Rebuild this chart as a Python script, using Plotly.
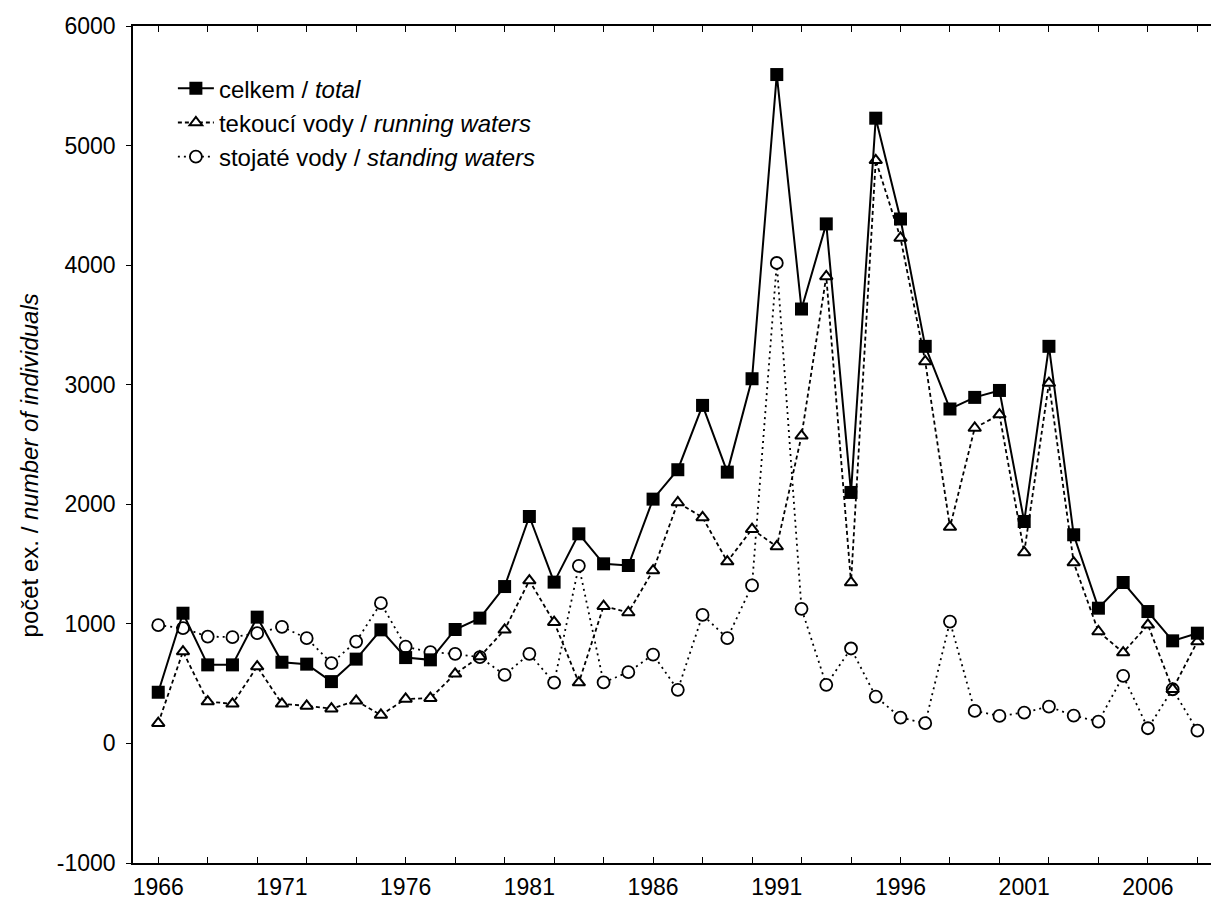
import plotly.graph_objects as go

years = list(range(1966, 2009))

total = [428, 1089, 657, 657, 1056, 679, 663, 517, 705, 950,
         718, 699, 953, 1048, 1312, 1898, 1349, 1753, 1502, 1488,
         2043, 2289, 2827, 2269, 3050, 5594, 3633, 4345, 2099, 5229,
         4386, 3321, 2797, 2894, 2952, 1856, 3321, 1745, 1131, 1346,
         1103, 858, 922]

running = [169, 768, 350, 331, 643, 331, 314, 291, 356, 238,
           372, 378, 582, 726, 950, 1362, 1014, 509, 1148, 1095,
           1446, 2015, 1890, 1521, 1792, 1647, 2573, 3906, 1346, 4877,
           4227, 3195, 1809, 2638, 2750, 1597, 3014, 1513, 936, 760,
           992, 453, 852]

standing = [989, 964, 894, 889, 922, 975, 880, 671, 852, 1173,
            810, 763, 749, 721, 573, 749, 509, 1485, 510, 596,
            743, 448, 1075, 880, 1321, 4018, 1126, 490, 794, 392,
            216, 169, 1019, 272, 230, 258, 308, 233, 183, 565,
            127, 453, 107]

names = ["celkem / <i>total</i>",
         "tekoucí vody / <i>running waters</i>",
         "stojaté vody / <i>standing waters</i>"]

x_label_vals = [1966, 1971, 1976, 1981, 1986, 1991, 1996, 2001, 2006]
x_label_text = [str(v) for v in x_label_vals]
y_tick_vals = [-1000, 0, 1000, 2000, 3000, 4000, 5000, 6000]
y_tick_text = ["-1000", "0", "1000", "2000", "3000", "4000", "5000", "6000"]

FONT = "Liberation Sans, Arial, sans-serif"
TICK_SIZE = 23
LEG_SIZE = 24
TITLE_SIZE = 24

fig = go.Figure()

fig.add_trace(go.Scatter(
    x=years, y=standing, name=names[2], mode="lines+markers",
    line=dict(color="black", width=1.8, dash="2px,4px"),
    marker=dict(symbol="circle", size=12, color="white",
                line=dict(color="black", width=1.8)),
))
fig.add_trace(go.Scatter(
    x=years, y=running, name=names[1], mode="lines+markers",
    line=dict(color="black", width=1.8, dash="4px,3px"),
    marker=dict(symbol="triangle-up", size=11, color="white",
                line=dict(color="black", width=2)),
))
fig.add_trace(go.Scatter(
    x=years, y=total, name=names[0], mode="lines+markers",
    xaxis="x2",
    line=dict(color="black", width=2),
    marker=dict(symbol="square", size=13, color="black",
                line=dict(color="black", width=0)),
))

xr = [1964.98, 2008.55]

fig.update_layout(
    width=1211, height=905,
    margin=dict(l=133, r=0, t=26, b=42),
    paper_bgcolor="white", plot_bgcolor="white",
    font=dict(family=FONT, size=TICK_SIZE, color="black"),
    showlegend=True,
    legend=dict(
        x=0.037, y=0.952, xanchor="left", yanchor="top",
        traceorder="reversed", bgcolor="rgba(0,0,0,0)",
        borderwidth=0, font=dict(size=LEG_SIZE, family=FONT),
        itemwidth=36,
    ),
    xaxis=dict(
        range=xr, showgrid=False, zeroline=False,
        showline=True, linecolor="black", linewidth=1.5,
        mirror="ticks", ticks="inside", ticklen=6, tickwidth=1.2,
        tickcolor="black", tickmode="linear", tick0=1966, dtick=2,
        showticklabels=False,
    ),
    xaxis2=dict(
        range=xr, overlaying="x", side="bottom", anchor="y",
        showgrid=False, zeroline=False, showline=False,
        ticks="", tickmode="array", tickvals=x_label_vals,
        ticktext=x_label_text, ticklabelstandoff=8,
        tickfont=dict(size=TICK_SIZE, family=FONT, color="black"),
    ),
    yaxis=dict(
        range=[-1000, 6000], showgrid=False, zeroline=False,
        showline=True, linecolor="black", linewidth=1.5,
        ticks="outside", ticklen=5, tickwidth=1.2, tickcolor="black",
        tickmode="array", tickvals=y_tick_vals, ticktext=y_tick_text,
        ticklabelstandoff=6,
        tickfont=dict(size=TICK_SIZE, family=FONT, color="black"),
    ),
    annotations=[dict(
        text="počet ex. / <i>number of individuals</i>",
        xref="paper", yref="paper", x=(29 - 133) / 1078, y=0.475,
        xanchor="center", yanchor="middle", textangle=-90,
        showarrow=False, font=dict(size=TITLE_SIZE, family=FONT, color="black"),
    )],
)

fig.write_html("out.html")
